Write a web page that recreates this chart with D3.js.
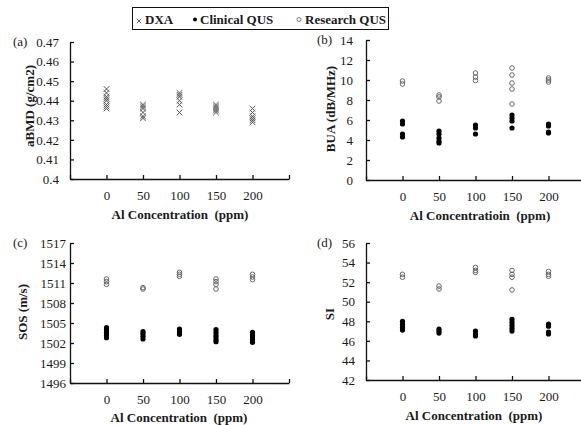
<!DOCTYPE html>
<html>
<head>
<meta charset="utf-8">
<script src="https://cdn.jsdelivr.net/npm/d3@7"></script>
<style>
  html, body { margin: 0; padding: 0; background: #fff; }
  svg { display: block; font-family: "Liberation Serif", "Times New Roman", serif; }
</style>
</head>
<body>
<svg id="chart" width="581" height="425"></svg>
<script>
// ---------- DATA ----------
const concentrations = [0, 50, 100, 150, 200];
const xTickValues = [-50, 0, 50, 100, 150, 200, 250];

// (a) DXA aBMD (g/cm2), one array per concentration
const dxaBMD = [
  [0.446, 0.444, 0.442, 0.441, 0.440, 0.438, 0.437, 0.436],
  [0.438, 0.437, 0.436, 0.434, 0.432, 0.431],
  [0.444, 0.443, 0.442, 0.440, 0.438, 0.434],
  [0.438, 0.437, 0.436, 0.435, 0.434],
  [0.436, 0.434, 0.432, 0.431, 0.430, 0.429]
];
// (b) BUA (dB/MHz)
const buaClinical = [
  [5.9, 5.6, 4.6, 4.3],
  [4.9, 4.6, 4.2, 3.9, 3.7],
  [5.5, 5.2, 4.6],
  [6.5, 6.2, 5.9, 5.2],
  [5.6, 5.4, 4.8, 4.7]
];
const buaResearch = [
  [9.9, 9.6],
  [8.5, 8.3, 7.9],
  [10.7, 10.3, 9.95],
  [11.2, 10.5, 9.7, 9.1, 7.6],
  [10.2, 10.0, 9.8]
];
// (c) SOS (m/s)
const sosClinical = [
  [1504.3, 1504.0, 1503.6, 1503.2, 1502.8],
  [1503.7, 1503.4, 1503.0, 1502.6],
  [1504.1, 1503.7, 1503.3],
  [1504.0, 1503.6, 1503.2, 1502.9, 1502.5, 1502.2],
  [1503.6, 1503.2, 1502.9, 1502.5, 1502.1]
];
const sosResearch = [
  [1511.6, 1511.2, 1510.8],
  [1510.3, 1510.1],
  [1512.6, 1512.3, 1512.0],
  [1511.6, 1511.2, 1510.8, 1510.1],
  [1512.3, 1511.9, 1511.5]
];
// (d) SI
const siClinical = [
  [48.0, 47.7, 47.4, 47.1],
  [47.2, 47.0, 46.8],
  [47.0, 46.7, 46.5],
  [48.2, 47.9, 47.6, 47.3, 47.0],
  [47.7, 47.5, 46.9, 46.7]
];
const siResearch = [
  [52.8, 52.5],
  [51.6, 51.3],
  [53.5, 53.2, 53.0],
  [53.2, 52.8, 52.5, 51.2],
  [53.1, 52.8, 52.6]
];

const yTicksA = [0.4, 0.41, 0.42, 0.43, 0.44, 0.45, 0.46, 0.47];
const yTicksB = [0, 2, 4, 6, 8, 10, 12, 14];
const yTicksC = [1496, 1499, 1502, 1505, 1508, 1511, 1514, 1517];
const yTicksD = [42, 44, 46, 48, 50, 52, 54, 56];

const legendLabels = ["DXA", "Clinical QUS", "Research QUS"];

// ---------- DRAW ----------
const svg = d3.select("#chart");
const TXT = "#1a1a1a";

function flatten(groups) {
  const out = [];
  groups.forEach((vals, i) => vals.forEach(v => out.push({x: concentrations[i], y: v})));
  return out;
}

function panel(cfg) {
  const g = svg.append("g");
  const x = d3.scaleLinear().domain([-50, 250]).range([cfg.left, cfg.right]);
  const y = d3.scaleLinear().domain([cfg.yTicks[0], cfg.yTicks[cfg.yTicks.length - 1]]).range([cfg.bottom, cfg.top]);

  // y axis
  const ya = g.append("g").attr("transform", `translate(${cfg.left},0)`)
    .call(d3.axisLeft(y).tickValues(cfg.yTicks).tickSize(-4).tickSizeOuter(0).tickPadding(cfg.yPad)
      .tickFormat(cfg.yFormat || (d => String(d))));
  // x axis
  const xa = g.append("g").attr("transform", `translate(0,${cfg.bottom})`)
    .call(d3.axisBottom(x).tickValues(xTickValues).tickSize(-4).tickSizeOuter(0).tickPadding(12)
      .tickFormat(d => (d < 0 || d > 200) ? "" : String(d)));
  [ya, xa].forEach(a => {
    a.selectAll("path, line").attr("stroke", "#111").attr("stroke-width", 1.3);
    a.selectAll("text").attr("font-size", 13).attr("fill", TXT)
      .attr("font-family", "Liberation Serif, Times New Roman, serif");
  });

  // panel label
  g.append("text").attr("x", cfg.labX).attr("y", cfg.top).attr("dy", "0.32em")
    .attr("font-size", 13).attr("fill", TXT).text(cfg.label);

  // y title
  g.append("text")
    .attr("transform", `translate(${cfg.yTitleX},${cfg.yTitleY}) rotate(-90)`)
    .attr("text-anchor", "middle").attr("dy", "0.35em")
    .attr("font-size", 13).attr("font-weight", "bold").attr("fill", TXT)
    .text(cfg.yTitle);

  // x title
  g.append("text").attr("x", cfg.xTitleX).attr("y", cfg.xTitleY).attr("dy", "0.35em")
    .attr("text-anchor", "middle").attr("font-size", 13).attr("font-weight", "bold")
    .attr("fill", TXT).attr("xml:space", "preserve").style("white-space", "pre")
    .text(cfg.xTitle);

  // series
  cfg.series.forEach(s => {
    const pts = flatten(s.data);
    if (s.kind === "cross") {
      const r = 2.8;
      g.append("g").selectAll("path").data(pts).join("path")
        .attr("d", d => {
          const cx = x(d.x), cy = y(d.y);
          return `M${cx - r},${cy - r}L${cx + r},${cy + r}M${cx - r},${cy + r}L${cx + r},${cy - r}`;
        })
        .attr("stroke", "#555").attr("stroke-width", 1).attr("fill", "none");
    } else if (s.kind === "filled") {
      g.append("g").selectAll("circle").data(pts).join("circle")
        .attr("cx", d => x(d.x)).attr("cy", d => y(d.y)).attr("r", 2.6)
        .attr("fill", "#000");
    } else {
      g.append("g").selectAll("circle").data(pts).join("circle")
        .attr("cx", d => x(d.x)).attr("cy", d => y(d.y)).attr("r", 2.3)
        .attr("fill", "none").attr("stroke", "#666").attr("stroke-width", 1);
    }
  });
}

panel({
  left: 70, right: 289, top: 42, bottom: 179, yTicks: yTicksA, yPad: 11,
  yFormat: d => d3.format(".2~f")(d),
  label: "(a)", labX: 13, yTitle: "aBMD (g/cm2)", yTitleX: 29, yTitleY: 106,
  xTitle: "Al Concentration  (ppm)", xTitleX: 180, xTitleY: 214,
  series: [{kind: "cross", data: dxaBMD}]
});
panel({
  left: 366, right: 585, top: 40, bottom: 180, yTicks: yTicksB, yPad: 13,
  label: "(b)", labX: 317, yTitle: "BUA (dB/MHz)", yTitleX: 330, yTitleY: 109,
  xTitle: "Al Concentratioin  (ppm)", xTitleX: 480, xTitleY: 215,
  series: [{kind: "open", data: buaResearch}, {kind: "filled", data: buaClinical}]
});
panel({
  left: 70, right: 289, top: 243, bottom: 383, yTicks: yTicksC, yPad: 4,
  label: "(c)", labX: 13, yTitle: "SOS (m/s)", yTitleX: 22, yTitleY: 312,
  xTitle: "Al Concentration  (ppm)", xTitleX: 179, xTitleY: 417,
  series: [{kind: "open", data: sosResearch}, {kind: "filled", data: sosClinical}]
});
panel({
  left: 366, right: 585, top: 243, bottom: 380, yTicks: yTicksD, yPad: 11,
  label: "(d)", labX: 317, yTitle: "SI", yTitleX: 329, yTitleY: 314,
  xTitle: "Al Concentration  (ppm)", xTitleX: 474, xTitleY: 415,
  series: [{kind: "open", data: siResearch}, {kind: "filled", data: siClinical}]
});

// ---------- LEGEND ----------
const lg = svg.append("g");
lg.append("rect").attr("x", 132.5).attr("y", 7.5).attr("width", 256).attr("height", 22)
  .attr("fill", "#fff").attr("stroke", "#111").attr("stroke-width", 1);
const legX = [145, 200, 305];
const legMarkX = [139, 195, 299];
const ly = 19;
// cross
lg.append("path")
  .attr("d", `M${legMarkX[0] - 2.2},${ly - 2.2 + 2}L${legMarkX[0] + 2.2},${ly + 2.2 + 2}M${legMarkX[0] - 2.2},${ly + 2.2 + 2}L${legMarkX[0] + 2.2},${ly - 2.2 + 2}`)
  .attr("stroke", "#555").attr("stroke-width", 0.9);
lg.append("circle").attr("cx", legMarkX[1]).attr("cy", ly + 0.5).attr("r", 2).attr("fill", "#000");
lg.append("circle").attr("cx", legMarkX[2]).attr("cy", ly + 0.5).attr("r", 2).attr("fill", "none")
  .attr("stroke", "#666").attr("stroke-width", 0.9);
legendLabels.forEach((t, i) => {
  lg.append("text").attr("x", legX[i]).attr("y", 24).attr("font-size", 13)
    .attr("font-weight", "bold").attr("fill", TXT).text(t);
});
</script>
</body>
</html>
